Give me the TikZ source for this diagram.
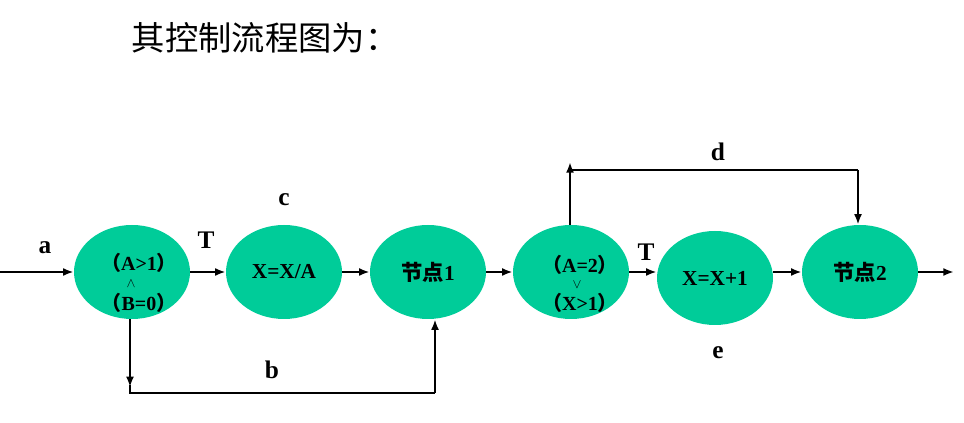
\documentclass[tikz,border=0pt]{standalone}
\usepackage{fontspec}
\setmainfont{Liberation Serif}
\newfontfamily\cjk{Noto Sans CJK SC}
\usetikzlibrary{shapes.geometric,arrows.meta}
\definecolor{ng}{HTML}{00CC99}
\tikzset{
  st/.style={ellipse,fill=ng,minimum width=116*0.75pt,minimum height=94*0.75pt,inner sep=0pt,font=\fontsize{16}{18}\selectfont\bfseries},
  tx/.style={font=\fontsize{15}{17}\selectfont\bfseries,inner sep=0pt},
  cr/.style={font=\fontsize{10}{11}\selectfont,inner sep=0pt},
  ar/.style={line width=1.6pt,-{Latex[length=8pt,width=6pt]}},
  ln/.style={line width=1.6pt},
  lab/.style={font=\fontsize{19}{21}\selectfont\bfseries}
}
\begin{document}
\begin{tikzpicture}[x=0.75pt,y=-0.75pt]
\useasboundingbox (0,0) rectangle (964,423);
\node[font=\cjk\fontsize{25}{28}\selectfont] (title) at (265,38) {其控制流程图为：};
\node[st] (n1) at (132,272) {};
\node[tx] (t1a) at (139,263) {{\cjk（}A>1{\cjk）}};
\node[tx] (t1b) at (139,303) {{\cjk（}B=0{\cjk）}};
\node[cr] (t1c) at (131,284) {$\wedge$};
\node[st] (n2) at (284,272) {X=X/A};
\node[st] (n3) at (428,272) {{\cjk 节点}1};
\node[st] (n4) at (571,272) {};
\node[tx] (t4a) at (580,265) {{\cjk（}A=2{\cjk）}};
\node[tx] (t4b) at (580,303) {{\cjk（}X>1{\cjk）}};
\node[cr] (t4c) at (577,285) {$\vee$};
\node[st] (n5) at (715,278) {X=X+1};
\node[st] (n6) at (860,272) {{\cjk 节点}2};
\coordinate (in) at (0,272);
\coordinate (out) at (954,272);
\coordinate (b1) at (130,393);
\coordinate (b2) at (435,393);
\coordinate (d1) at (570,170);
\coordinate (d2) at (858,170);
\draw[ar] (in) -- (n1.west);
\draw[ar] (n1.east) -- (n2.west);
\draw[ar] (n2.east) -- (n3.west);
\draw[ar] (n3.east) -- (n4.west);
\draw[ar] (n4.east) -- (n5.west |- n4.east);
\draw[ar] (n5.east |- n6.west) -- (n6.west);
\draw[ar] (n6.east) -- (out);
\draw[ar] (n1.south -| b1) -- ++(0,68);
\draw[ln] (b1) ++(0,-8) -- (b1) -- (b2);
\draw[ar] (b2) -- (n3.south -| b2);
\draw[ln] (n4.north -| d1) -- (d1 |- 0,178);
\draw[ar] (d1 |- 0,178) -- ++(0,-16);
\draw[ln] (d1) -- (d2);
\draw[ar] (d2) -- (n6.north -| d2);
\node[lab] (la) at (45,248) {a};
\node[lab] (lT1) at (206,240) {T};
\node[lab] (lc) at (284,200) {c};
\node[lab] (lb) at (272,370) {b};
\node[lab] (ld) at (718,152) {d};
\node[lab] (lT2) at (646,252) {T};
\node[lab] (le) at (718,353) {e};
\end{tikzpicture}
\end{document}
